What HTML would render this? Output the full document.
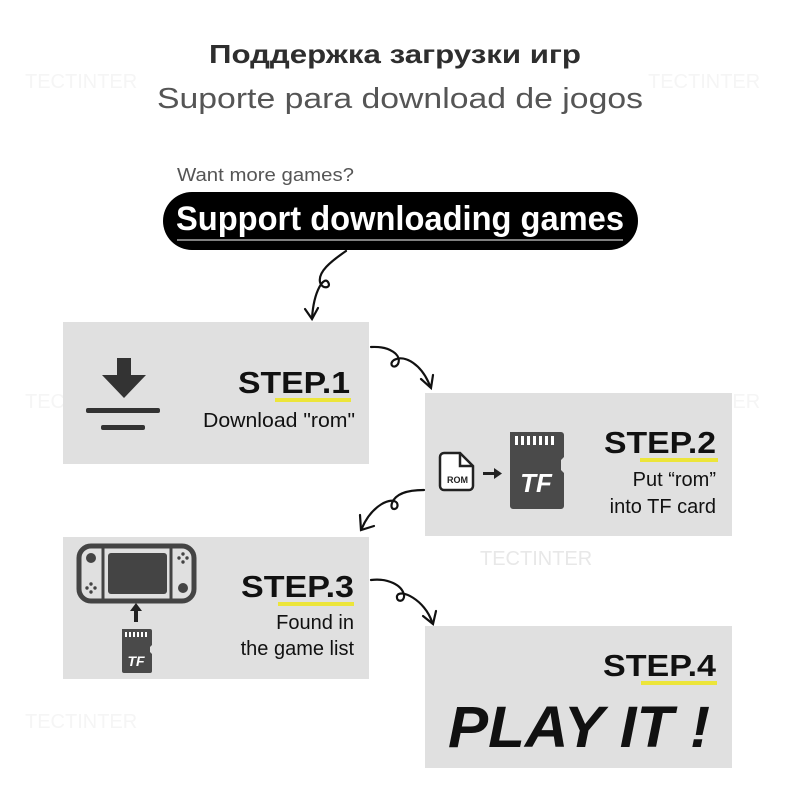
<!DOCTYPE html>
<html><head><meta charset="utf-8"><style>html,body{margin:0;padding:0;background:#fff}svg{display:block}</style></head>
<body>
<svg width="800" height="800" viewBox="0 0 800 800" xmlns="http://www.w3.org/2000/svg" font-family="Liberation Sans, DejaVu Sans, sans-serif">
<rect width="800" height="800" fill="#fff"/>
<g fill="#f5f5f5" font-size="20">
<text x="25" y="88">TECTINTER</text><text x="648" y="88">TECTINTER</text>
<text x="25" y="408">TECTINTER</text><text x="648" y="408">TECTINTER</text>
<text x="25" y="728">TECTINTER</text>
</g>
<text x="395" y="63" text-anchor="middle" font-size="26" font-weight="bold" fill="#2e2e2e" textLength="372" lengthAdjust="spacingAndGlyphs">Поддержка загрузки игр</text>
<text x="400" y="108" text-anchor="middle" font-size="29" fill="#555" textLength="486" lengthAdjust="spacingAndGlyphs">Suporte para download de jogos</text>
<text x="177" y="181" font-size="18" fill="#555" textLength="177" lengthAdjust="spacingAndGlyphs">Want more games?</text>
<rect x="163" y="192" width="475" height="58" rx="29" fill="#000"/>
<text x="400" y="230" text-anchor="middle" font-size="34" font-weight="bold" fill="#fff" textLength="448" lengthAdjust="spacingAndGlyphs">Support downloading games</text>
<line x1="177" y1="240" x2="623" y2="240" stroke="#fff" stroke-width="1"/>
<g fill="#e0e0e0">
<rect x="63" y="322" width="306" height="142"/>
<rect x="425" y="393" width="307" height="143"/>
<rect x="63" y="537" width="306" height="142"/>
<rect x="425" y="626" width="307" height="142"/>
</g>
<g fill="#e8e8e8" font-size="20">
<text x="480" y="565">TECTINTER</text>
</g>
<g fill="none" stroke="#111" stroke-width="2.2" stroke-linecap="round">
<path d="M346 251 C330 262 318 272 320 282 C322 290 332 288 328 282 C324 276 314 290 312 318"/>
<path d="M305 309 L312 319 L318 308"/>
<path d="M371 347 C390 346 402 355 398 364 C394 370 388 364 394 360 C405 354 422 365 430 386"/>
<path d="M421 379 L431 388 L433 375"/>
<path d="M424 490 C405 490 395 495 392 503 C389 512 400 510 397 503 C392 496 372 505 362 528"/>
<path d="M360 515 L361 530 L374 526"/>
<path d="M371 580 C388 578 402 585 404 595 C405 602 396 603 397 596 C400 588 425 600 432 622"/>
<path d="M423 616 L433 624 L436 611"/>
</g>
<polygon points="117,358 131,358 131,375 146,375 124,398 102,375 117,375" fill="#333"/>
<rect x="86" y="408" width="74" height="5" rx="2" fill="#333"/>
<rect x="101" y="425" width="44" height="5" rx="2" fill="#333"/>
<rect x="275" y="398" width="76" height="4" fill="#ece53a"/>
<text x="350" y="393" text-anchor="end" font-size="31" font-weight="bold" fill="#111" textLength="112" lengthAdjust="spacingAndGlyphs">STEP.1</text>
<text x="355" y="427" text-anchor="end" font-size="20" fill="#111" textLength="152" lengthAdjust="spacingAndGlyphs">Download "rom"</text>
<path d="M444 453 h16 l13 13 v20 a4 4 0 0 1 -4 4 h-25 a4 4 0 0 1 -4 -4 v-29 a4 4 0 0 1 4 -4z" fill="#fff" stroke="#222" stroke-width="2.5"/>
<path d="M460 453 v13 h13" fill="none" stroke="#222" stroke-width="2.5"/>
<text x="457.5" y="483" text-anchor="middle" font-size="9" font-weight="bold" fill="#222">ROM</text>
<rect x="483" y="472" width="12" height="3" fill="#222"/>
<polygon points="494,468 502,473.5 494,479" fill="#222"/>
<path d="M510 432 h51 a3 3 0 0 1 3 3 v22 l-3 3 v10 l3 3 v33 a3 3 0 0 1 -3 3 h-48 a3 3 0 0 1 -3 -3z" fill="#4a4a4a"/>
<g fill="#fff"><rect x="515" y="436" width="3" height="9"/><rect x="521" y="436" width="3" height="9"/><rect x="527" y="436" width="3" height="9"/><rect x="533" y="436" width="3" height="9"/><rect x="539" y="436" width="3" height="9"/><rect x="545" y="436" width="3" height="9"/><rect x="551" y="436" width="3" height="9"/></g>
<text x="536" y="492" text-anchor="middle" font-size="26" font-weight="bold" font-style="italic" fill="#fff">TF</text>
<rect x="640" y="458" width="78" height="4" fill="#ece53a"/>
<text x="716" y="453" text-anchor="end" font-size="31" font-weight="bold" fill="#111" textLength="112" lengthAdjust="spacingAndGlyphs">STEP.2</text>
<text x="716" y="486" text-anchor="end" font-size="20" fill="#111">Put “rom”</text>
<text x="716" y="513" text-anchor="end" font-size="20" fill="#111">into TF card</text>
<rect x="79" y="546" width="115" height="55" rx="12" fill="none" stroke="#444" stroke-width="5"/>
<line x1="103" y1="546" x2="103" y2="601" stroke="#444" stroke-width="3"/>
<line x1="171" y1="546" x2="171" y2="601" stroke="#444" stroke-width="3"/>
<rect x="108" y="553" width="59" height="41" rx="3" fill="#444"/>
<circle cx="91" cy="558" r="5" fill="#444"/><circle cx="183" cy="588" r="5" fill="#444"/>
<g fill="#444"><circle cx="91" cy="584" r="1.7"/><circle cx="87" cy="588" r="1.7"/><circle cx="95" cy="588" r="1.7"/><circle cx="91" cy="592" r="1.7"/>
<circle cx="183" cy="554" r="1.7"/><circle cx="179" cy="558" r="1.7"/><circle cx="187" cy="558" r="1.7"/><circle cx="183" cy="562" r="1.7"/></g>
<polygon points="136,603 142,611 138,611 138,622 134,622 134,611 130,611" fill="#222"/>
<path d="M122 629 h28 a2 2 0 0 1 2 2 v14 l-2 2 v5 l2 2 v17 a2 2 0 0 1 -2 2 h-26 a2 2 0 0 1 -2 -2z" fill="#4a4a4a"/>
<g fill="#fff"><rect x="125" y="632" width="2" height="5"/><rect x="129" y="632" width="2" height="5"/><rect x="133" y="632" width="2" height="5"/><rect x="137" y="632" width="2" height="5"/><rect x="141" y="632" width="2" height="5"/><rect x="145" y="632" width="2" height="5"/></g>
<text x="136" y="666" text-anchor="middle" font-size="14" font-weight="bold" font-style="italic" fill="#fff">TF</text>
<rect x="278" y="602" width="76" height="4" fill="#ece53a"/>
<text x="354" y="597" text-anchor="end" font-size="31" font-weight="bold" fill="#111" textLength="113" lengthAdjust="spacingAndGlyphs">STEP.3</text>
<text x="354" y="629" text-anchor="end" font-size="20" fill="#111">Found in</text>
<text x="354" y="655" text-anchor="end" font-size="20" fill="#111">the game list</text>
<rect x="641" y="681" width="76" height="4" fill="#ece53a"/>
<text x="716" y="676" text-anchor="end" font-size="31" font-weight="bold" fill="#111" textLength="113" lengthAdjust="spacingAndGlyphs">STEP.4</text>
<text x="448" y="747" font-size="58" font-weight="bold" font-style="italic" fill="#111" textLength="262" lengthAdjust="spacingAndGlyphs">PLAY IT !</text>
</svg>
</body></html>
